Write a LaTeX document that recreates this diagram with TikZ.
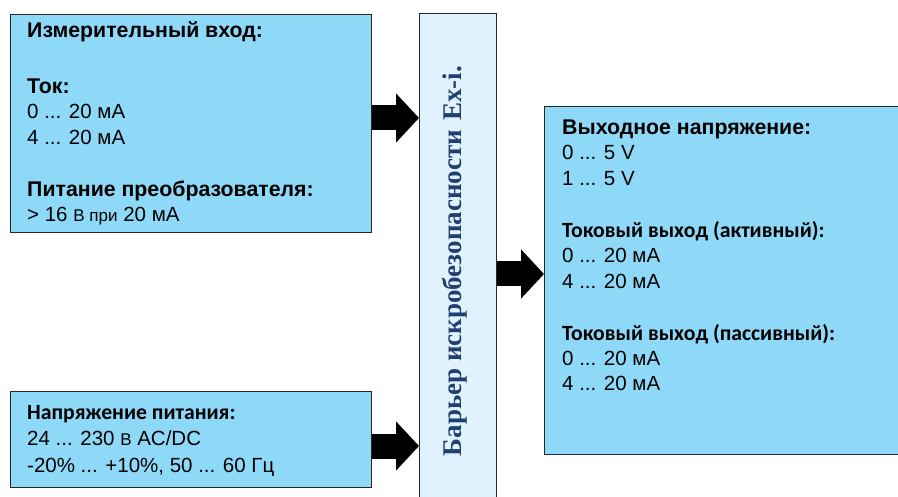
\documentclass[tikz,border=0pt]{standalone}
\usepackage{fontspec}
\setmainfont{Liberation Sans}
\newfontfamily\carlitofont{Carlito}
\newfontfamily\serifbold{Liberation Serif}
\usetikzlibrary{arrows.meta}
\definecolor{boxblue}{HTML}{8ED8F8}
\definecolor{barblue}{HTML}{E0F2FD}
\definecolor{bartextcol}{HTML}{1F3F6F}
\newcommand{\smallv}[1]{{\fontsize{17}{20}\selectfont #1}}
\newcommand{\hda}{\bfseries\fontsize{21.3}{25.5}\selectfont}
\newcommand{\hdc}{\carlitofont\bfseries\fontsize{21.7}{25.5}\selectfont}
\begin{document}
\begin{tikzpicture}[x=1pt,y=-1pt,
  box/.style={draw=black!85, line width=1.2pt, fill=boxblue, rectangle, inner sep=0pt, anchor=north west},
  barrierbox/.style={draw=black!85, line width=1.2pt, fill=barblue, rectangle, inner sep=0pt, anchor=north west},
  txt/.style={anchor=base west, align=left, inner sep=0pt, text=black},
  blockarr/.style={line width=25pt, -{Triangle[width=48pt,length=23pt]}, black}
]
\useasboundingbox (0,0) rectangle (898,497);
\clip (0,0) rectangle (898,497);
% boxes
\node[box, minimum width=361pt, minimum height=218pt] (inbox) at (10,14) {};
\node[box, minimum width=361pt, minimum height=96pt] (supbox) at (10,391) {};
\node[barrierbox, minimum width=77pt, minimum height=500pt] (barrier) at (419,13) {};
\node[box, minimum width=370pt, minimum height=348pt] (outbox) at (544,106) {};
% texts (anchored at the baseline of their last line)
\node[txt, font=\fontsize{20.5}{25.5}\selectfont] (intext) at (27,222) {%
{\hda Измерительный вход:}\\[30.5pt]
{\hda Ток:}\\
0 ... 20 мА\\
4 ... 20 мА\\[26.5pt]
{\hda Питание преобразователя:}\\
> 16 \smallv{В при} 20 мА};
\node[txt, font=\fontsize{20.5}{26.5}\selectfont] (suptext) at (27,472) {%
{\hdc Напряжение питания:}\\
24 ... 230 \smallv{В} AC/DC\\
-20\% ... +10\%, 50 ... 60 Гц};
\node[txt, font=\fontsize{20.5}{25.5}\selectfont] (outtext) at (562,391) {%
{\hda Выходное напряжение:}\\
0 ... 5 V\\
1 ... 5 V\\[26.5pt]
{\hdc Токовый выход (активный):}\\
0 ... 20 мА\\
4 ... 20 мА\\[26.5pt]
{\hdc Токовый выход (пассивный):}\\
0 ... 20 мА\\
4 ... 20 мА};
\node[rotate=90, anchor=base, inner sep=0pt, text=bartextcol,
  font=\serifbold\bfseries\fontsize{27}{32}\selectfont] (bartext) at (461,261)
  {Барьер искробезопасности\hspace{0.1em} Ex-i.};
% arrows
\draw[blockarr] (inbox.east |- 0,118) -- (barrier.west |- 0,118);
\draw[blockarr] (supbox.east |- 0,446) -- (barrier.west |- 0,446);
\draw[blockarr] (barrier.east |- 0,274) -- (outbox.west |- 0,274);
\end{tikzpicture}
\end{document}
